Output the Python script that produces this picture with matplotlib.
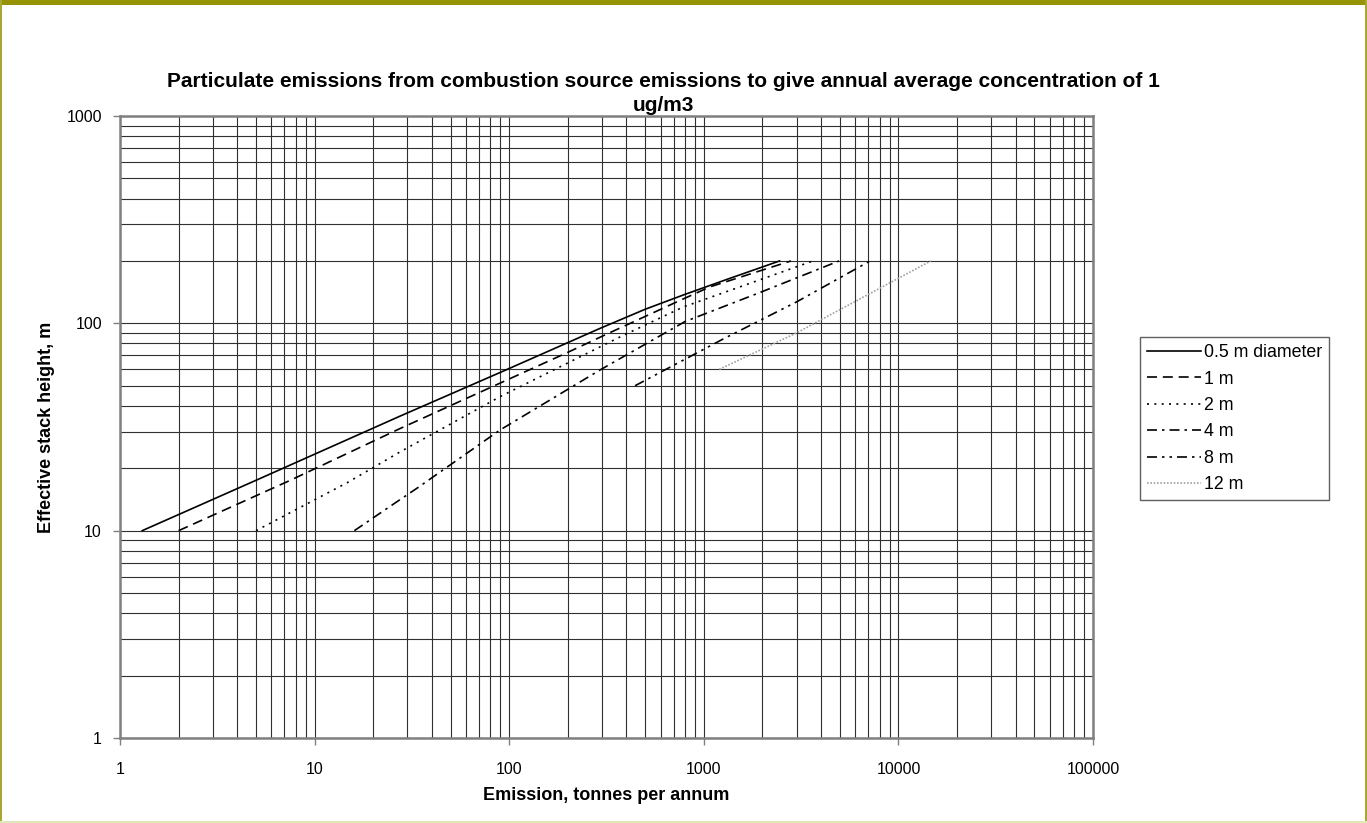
#!/usr/bin/env python3
"""Particulate emission vs effective stack height, log-log chart"""
import matplotlib
matplotlib.use('Agg')
import matplotlib.pyplot as plt
from matplotlib.ticker import LogLocator, FixedLocator, NullFormatter
from matplotlib.patches import Rectangle

plt.rcParams['font.family'] = ['Liberation Sans', 'DejaVu Sans']

TITLE_LINES = ["Particulate emissions from combustion source emissions to give annual average concentration of 1",
               "ug/m3"]
X_LABEL = "Emission, tonnes per annum"
Y_LABEL = "Effective stack height, m"

# emission (t/a) and effective stack height (m) per stack diameter
x_05 = [1.3, 5, 27.5, 90, 293, 500, 800, 1364, 2450]
y_05 = [10, 17.5, 35.7, 58, 94.6, 117, 138, 165, 200]

x_1 = [2, 7.5, 27.5, 197, 311, 754, 1076, 2800]
y_1 = [10, 17.5, 31.1, 72, 88, 129, 150, 200]

x_2 = [5, 14.8, 27.5, 89.7, 371, 785, 3640]
y_2 = [10, 17.1, 24, 44.3, 86, 120, 200]

x_4 = [16, 25.9, 33.5, 89.7, 293, 800, 1985, 4950]
y_4 = [10, 13.6, 16, 30.6, 59.6, 102, 142, 200]

x_8 = [443, 1255, 3000, 7150]
y_8 = [50, 84, 127, 200]

x_12 = [1200, 3000, 14650]
y_12 = [60, 90, 200]

SERIES_LABELS = ["0.5 m diameter", "1 m", "2 m", "4 m", "8 m", "12 m"]
X_TICKS = [1, 10, 100, 1000, 10000, 100000]
Y_TICKS = [1, 10, 100, 1000]

STYLES = [
    dict(color="black", linestyle="-"),
    dict(color="black", dashes=(6, 3.5)),
    dict(color="black", dashes=(1.2, 3.2)),
    dict(color="black", dashes=(6, 3, 1.5, 3)),
    dict(color="black", dashes=(6, 3, 1.5, 3, 1.5, 3)),
    dict(color="#a0a0a0", dashes=(1, 1)),
]

fig = plt.figure(figsize=(13.67, 8.23), dpi=100)
fig.patch.set_facecolor("white")

# frame round the chart area
fig.add_artist(Rectangle((0, 0.994), 1, 0.006, transform=fig.transFigure,
                         facecolor="#969406", edgecolor="none"))
fig.add_artist(Rectangle((0.0, 0.0), 0.0018, 1, transform=fig.transFigure,
                         facecolor="#a8a830", edgecolor="none"))
fig.add_artist(Rectangle((0.9982, 0.0), 0.0018, 1, transform=fig.transFigure,
                         facecolor="#a8a830", edgecolor="none"))
fig.add_artist(Rectangle((0, 0), 1, 0.003, transform=fig.transFigure,
                         facecolor="#dfe8b8", edgecolor="none"))

ax = fig.add_axes([0.0878, 0.1033, 0.7118, 0.7557])
ax.set_xscale("log")
ax.set_yscale("log")
ax.set_xlim(1, 100000)
ax.set_ylim(1, 1000)

series = [(x_05, y_05), (x_1, y_1), (x_2, y_2), (x_4, y_4), (x_8, y_8), (x_12, y_12)]
for (xs, ys), lab, st in zip(series, SERIES_LABELS, STYLES):
    ax.plot(xs, ys, label=lab, linewidth=1.2, zorder=3, **st)

ax.xaxis.set_major_locator(FixedLocator(X_TICKS))
ax.yaxis.set_major_locator(FixedLocator(Y_TICKS))
ax.set_xticklabels([str(v) for v in X_TICKS])
ax.set_yticklabels([str(v) for v in Y_TICKS])
ax.xaxis.set_minor_locator(LogLocator(base=10, subs=range(2, 10), numticks=20))
ax.yaxis.set_minor_locator(LogLocator(base=10, subs=range(2, 10), numticks=20))
ax.xaxis.set_minor_formatter(NullFormatter())
ax.yaxis.set_minor_formatter(NullFormatter())
ax.tick_params(which="minor", length=0)
ax.tick_params(which="major", length=5, width=1, color="#808080", labelsize=11.5, pad=8)
ax.tick_params(axis="x", which="major", pad=12)

ax.grid(True, which="both", color="#303030", linewidth=0.8, zorder=1)
ax.set_axisbelow(True)
for side in ["top", "right", "left", "bottom"]:
    ax.spines[side].set_color("#808080")
    ax.spines[side].set_linewidth(1.8)

# two-line title, each line placed on its own
for txt, ty in zip(TITLE_LINES, [0.9005, 0.8715]):
    fig.text(0.485, ty, txt, ha="center", va="center", fontsize=15, fontweight="bold")
fig.text(0.4435, 0.034, X_LABEL, ha="center", va="center", fontsize=13, fontweight="bold")
fig.text(0.034, 0.481, Y_LABEL, ha="center", va="center", rotation=90,
         fontsize=13, fontweight="bold")

leg = ax.legend(loc="upper left", bbox_to_anchor=(0.834, 0.5905),
                bbox_transform=fig.transFigure, borderaxespad=0,
                fontsize=12.8, handlelength=3.0, handletextpad=0.2,
                labelspacing=0.53, borderpad=0.4, fancybox=False,
                framealpha=1, edgecolor="#606060")
leg.get_frame().set_linewidth(1.0)

plt.savefig("out.png", dpi=100, facecolor=fig.get_facecolor())
plt.close()
